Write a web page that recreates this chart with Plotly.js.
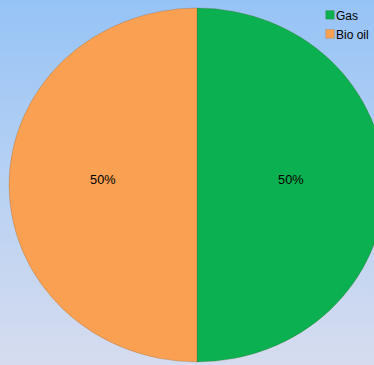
<!DOCTYPE html>
<html>
<head>
<meta charset="utf-8">
<script src="https://cdn.plot.ly/plotly-3.0.1.min.js"></script>
<style>
html,body{margin:0;padding:0;width:374px;height:365px;overflow:hidden;}
body{background:linear-gradient(to bottom,#96c3f6 0%,#b4d0f3 45%,#d6dcef 100%);}
#chart{width:400px;height:365px;}
</style>
</head>
<body>
<div id="chart"></div>
<script>
const categories = ["Gas", "Bio oil"];
const shares = [50, 50];
const sliceColors = ["#0bb050", "#f9a052"];

const trace = {
  type: "pie",
  labels: categories,
  values: shares,
  marker: {colors: sliceColors, line: {color: "rgba(110,70,30,0.3)", width: 0.7}},
  sort: false,
  direction: "clockwise",
  rotation: 0,
  textinfo: "percent",
  textposition: "inside",
  insidetextorientation: "horizontal",
  textfont: {family: "Liberation Sans, Arial, sans-serif", size: 12, color: "#000000"},
  hoverinfo: "none",
  domain: {x: [0.05, 0.935], y: [0, 1]}
};

const layout = {
  width: 400,
  height: 365,
  margin: {l: 0, r: 0, t: 8, b: 3, pad: 0},
  paper_bgcolor: "rgba(0,0,0,0)",
  plot_bgcolor: "rgba(0,0,0,0)",
  showlegend: true,
  legend: {
    x: 0.74, y: 1.0215, xanchor: "left", yanchor: "top",
    bgcolor: "rgba(0,0,0,0)",
    font: {family: "Liberation Sans, Arial, sans-serif", size: 12, color: "#000000"},
    itemwidth: 30,
    tracegroupgap: 0
  }
};

Plotly.newPlot("chart", [trace], layout, {displayModeBar: false, staticPlot: true}).then(function (gd) {
  // stretch the pie layer horizontally so the disc is slightly elliptical, as in the reference
  const svgs = gd.querySelectorAll("svg.main-svg");
  const pieSvg = svgs[0];
  pieSvg.style.transformOrigin = "197px 185px";
  pieSvg.style.transform = "scaleX(1.062)";
  // lift the percent labels a little
  gd.querySelectorAll("g.slicetext").forEach(function (g) {
    const t = g.getAttribute("transform") || "";
    g.setAttribute("transform", "translate(0,-5) " + t);
  });
  // compact legend swatches placed close to the text
  gd.querySelectorAll(".legendsymbols").forEach(function (g) {
    g.setAttribute("transform", "translate(19.6,0) scale(0.72)");
  });
});
</script>
</body>
</html>
